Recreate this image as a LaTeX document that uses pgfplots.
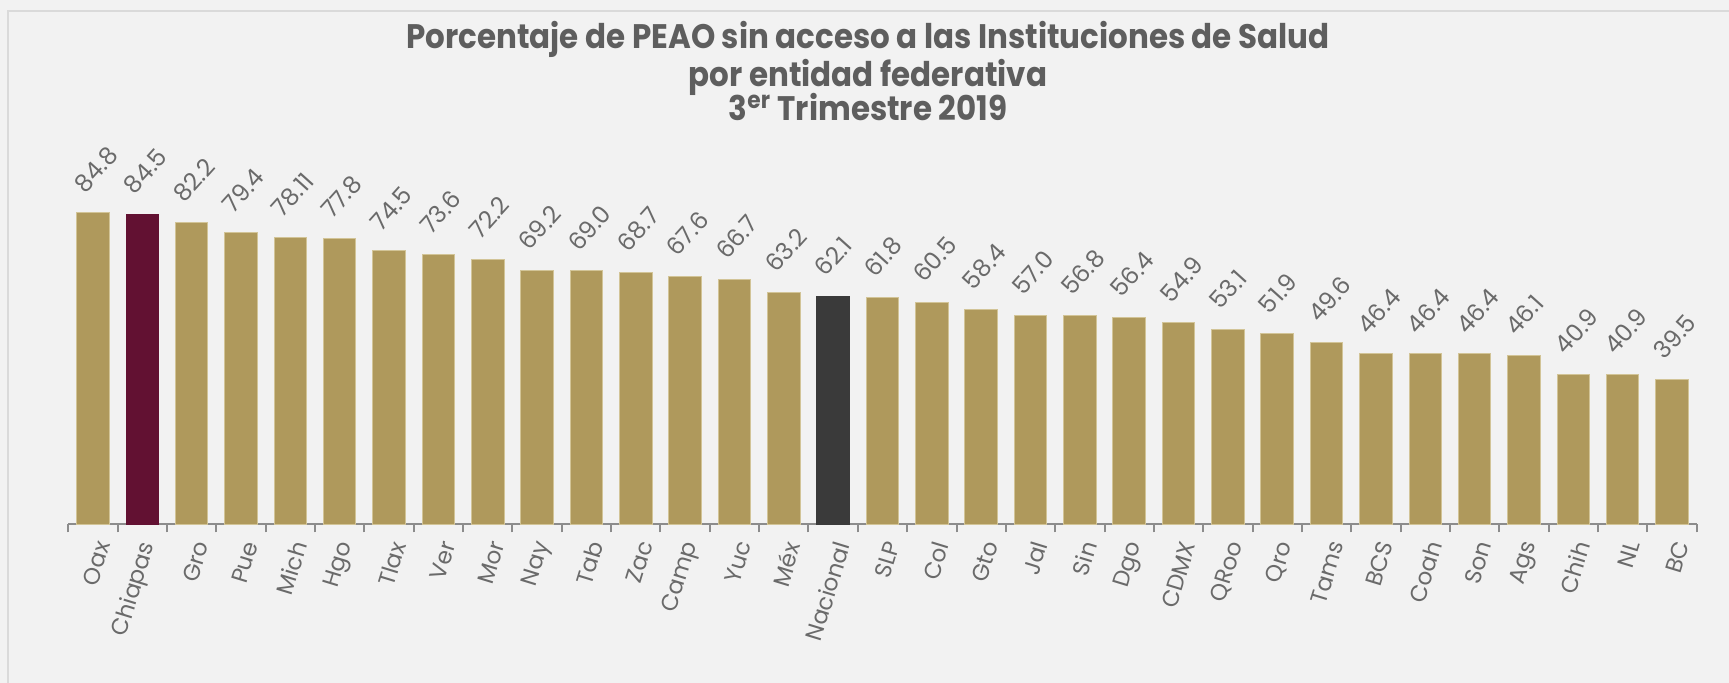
\documentclass[border=0pt]{standalone}
\usepackage{pgfplots}
\pgfplotsset{compat=1.18}
\usepackage{graphicx}
\usepackage{fontspec}
\setmainfont{Poppins}
\newfontfamily\titlefont{Poppins}[FakeStretch=0.91]

\definecolor{bg}{HTML}{F2F2F2}
\definecolor{frame}{HTML}{DADADA}
\definecolor{gold}{HTML}{AF995C}
\definecolor{goldedge}{HTML}{D2C497}
\definecolor{guinda}{HTML}{621132}
\definecolor{nacional}{HTML}{3A3A3A}
\definecolor{txt}{HTML}{6A6A6A}
\definecolor{ttl}{HTML}{5E5E5E}
\definecolor{axisc}{HTML}{8C8C8C}

% rotated tick label
\newcommand\rl[1]{\rotatebox{73}{#1}}

\begin{document}
\begin{tikzpicture}
\fill[bg] (0,0) rectangle (864.5pt,341.5pt);
\draw[frame, line width=1pt] (4pt,-2pt) -- (4pt,336pt) -- (870pt,336pt);

\begin{axis}[
    at={(34.15pt,79.35pt)}, anchor=south west,
    scale only axis,
    width=814.2pt, height=183.55pt,
    xmin=-0.5, xmax=32.5,
    ymin=0, ymax=100,
    hide y axis,
    axis x line*=bottom,
    x axis line style={-, axisc, line width=1pt},
    xtick={0,...,32},
    xticklabels={\rl{Oax},\rl{Chiapas},\rl{Gro},\rl{Pue},\rl{Mich},\rl{Hgo},\rl{Tlax},\rl{Ver},\rl{Mor},\rl{Nay},\rl{Tab},\rl{Zac},\rl{Camp},\rl{Yuc},\rl{Méx},\rl{Nacional},\rl{SLP},\rl{Col},\rl{Gto},\rl{Jal},\rl{Sin},\rl{Dgo},\rl{CDMX},\rl{QRoo},\rl{Qro},\rl{Tams},\rl{BCS},\rl{Coah},\rl{Son},\rl{Ags},\rl{Chih},\rl{NL},\rl{BC}},
    minor xtick={-0.5,0.5,...,32.5},
    major tick length=0pt,
    minor tick length=4pt,
    tick align=outside,
    minor tick style={axisc, line width=1pt},
    xticklabel style={anchor=north east, xshift=9pt, yshift=-7.5pt, inner sep=0pt,
        font=\fontsize{11.5}{13}\selectfont, text=txt},
    ybar, bar shift=0pt, bar width=0.66,
    point meta=explicit symbolic,
    nodes near coords={\rotatebox{48}{\pgfplotspointmeta}},
    every node near coord/.append style={anchor=south west, xshift=-10.5pt, yshift=9pt,
        inner sep=0pt, font=\fontsize{12}{14}\selectfont, text=txt},
    clip=false,
]
\addplot[fill=gold, draw=goldedge, line width=0.5pt] coordinates {
    (0,84.8) [84.8]
    (2,82.2) [82.2]
    (3,79.4) [79.4]
    (4,78.11) [78.11]
    (5,77.8) [77.8]
    (6,74.5) [74.5]
    (7,73.6) [73.6]
    (8,72.2) [72.2]
    (9,69.2) [69.2]
    (10,69.0) [69.0]
    (11,68.7) [68.7]
    (12,67.6) [67.6]
    (13,66.7) [66.7]
    (14,63.2) [63.2]
    (16,61.8) [61.8]
    (17,60.5) [60.5]
    (18,58.4) [58.4]
    (19,57.0) [57.0]
    (20,56.8) [56.8]
    (21,56.4) [56.4]
    (22,54.9) [54.9]
    (23,53.1) [53.1]
    (24,51.9) [51.9]
    (25,49.6) [49.6]
    (26,46.4) [46.4]
    (27,46.4) [46.4]
    (28,46.4) [46.4]
    (29,46.1) [46.1]
    (30,40.9) [40.9]
    (31,40.9) [40.9]
    (32,39.5) [39.5]
};
\addplot[fill=guinda, draw=guinda, line width=0.5pt] coordinates {
    (1,84.5) [84.5]
};
\addplot[fill=nacional, draw=nacional, line width=0.5pt] coordinates {
    (15,62.1) [62.1]
};
\end{axis}

\node[anchor=base, font=\titlefont\bfseries\fontsize{17}{20}\selectfont, text=ttl] at (434pt,317.1pt) {Porcentaje de PEAO sin acceso a las Instituciones de Salud};
\node[anchor=base, font=\titlefont\bfseries\fontsize{17}{20}\selectfont, text=ttl] at (434pt,298.4pt) {por entidad federativa};
\node[anchor=base, font=\titlefont\bfseries\fontsize{17}{20}\selectfont, text=ttl] at (434pt,281.1pt) {3\textsuperscript{er} Trimestre 2019};

\pgfresetboundingbox
\useasboundingbox (0,0) rectangle (864.5pt,341.5pt);
\end{tikzpicture}
\end{document}
